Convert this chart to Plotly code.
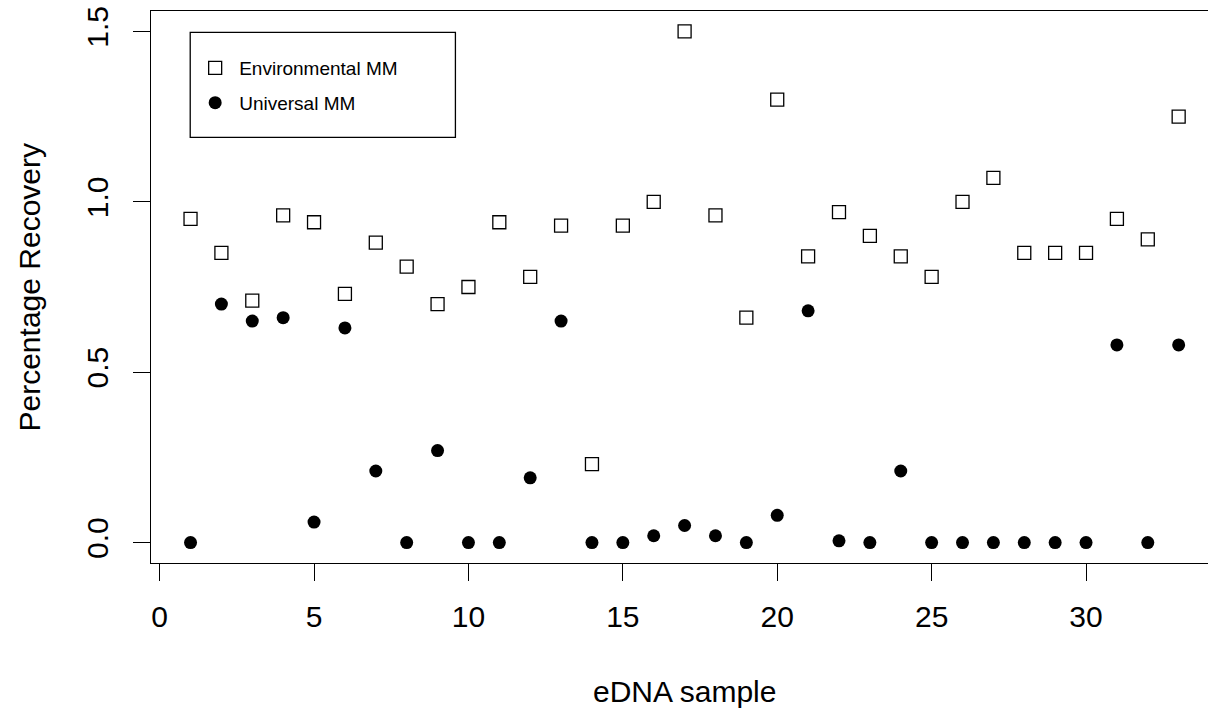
import plotly.graph_objects as go

samples = list(range(1, 34))
environmental_mm = [0.95, 0.85, 0.71, 0.96, 0.94, 0.73, 0.88, 0.81, 0.70, 0.75,
                    0.94, 0.78, 0.93, 0.23, 0.93, 1.00, 1.50, 0.96, 0.66, 1.30,
                    0.84, 0.97, 0.90, 0.84, 0.78, 1.00, 1.07, 0.85, 0.85, 0.85,
                    0.95, 0.89, 1.25]
universal_mm = [0.00, 0.70, 0.65, 0.66, 0.06, 0.63, 0.21, 0.00, 0.27, 0.00,
                0.00, 0.19, 0.65, 0.00, 0.00, 0.02, 0.05, 0.02, 0.00, 0.08,
                0.68, 0.005, 0.00, 0.21, 0.00, 0.00, 0.00, 0.00, 0.00, 0.00,
                0.58, 0.00, 0.58]
x_ticks = [0, 5, 10, 15, 20, 25, 30]
y_ticks = [0.0, 0.5, 1.0, 1.5]
y_tick_labels = ["0.0", "0.5", "1.0", "1.5"]

FONT = "Liberation Sans, Arial, sans-serif"

fig = go.Figure()
fig.add_trace(go.Scatter(
    x=samples, y=environmental_mm, mode="markers", name="Environmental MM",
    legendgroup="a",
    marker=dict(symbol="square-open", size=13, color="black",
                line=dict(width=1.3, color="black")),
))
fig.add_trace(go.Scatter(
    x=samples, y=universal_mm, mode="markers", name="Universal MM",
    legendgroup="b",
    marker=dict(symbol="circle", size=13, color="black", line=dict(width=0)),
))

fig.update_layout(
    width=1208, height=710,
    margin=dict(l=151, r=0, t=11, b=147, pad=0, autoexpand=False),
    paper_bgcolor="white", plot_bgcolor="white",
    font=dict(family=FONT, color="black", size=30),
    showlegend=True,
    legend=dict(
        x=0.038, y=0.931, xanchor="left", yanchor="top",
        bgcolor="rgba(0,0,0,0)", borderwidth=0,
        font=dict(family=FONT, size=19, color="black"),
        itemwidth=38, tracegroupgap=7, traceorder="grouped",
    ),
    xaxis=dict(
        range=[-0.28, 33.95], tickmode="array", tickvals=x_ticks,
        showgrid=False, zeroline=False,
        showline=True, linecolor="black", linewidth=1.3, mirror=True,
        ticks="outside", ticklen=17, tickwidth=1.3, tickcolor="black",
        ticklabelstandoff=10,
        tickfont=dict(family=FONT, size=30, color="black"),
    ),
    yaxis=dict(
        range=[-0.06, 1.56], tickmode="array", tickvals=y_ticks,
        ticktext=y_tick_labels, tickangle=-90,
        showgrid=False, zeroline=False,
        showline=True, linecolor="black", linewidth=1.3, mirror=False,
        ticks="outside", ticklen=17, tickwidth=1.3, tickcolor="black",
        ticklabelstandoff=13,
        tickfont=dict(family=FONT, size=30, color="black"),
    ),
    shapes=[dict(type="rect", xref="paper", yref="paper",
                 x0=0.0371, x1=0.2880, y0=0.7712, y1=0.9614,
                 line=dict(color="black", width=1.3), fillcolor="rgba(0,0,0,0)")],
    annotations=[
        dict(text="eDNA sample", xref="x", yref="paper", x=17, y=0,
             xanchor="center", yanchor="middle", yshift=-128.7, showarrow=False,
             font=dict(family=FONT, size=30, color="black")),
        dict(text="Percentage Recovery", xref="paper", yref="y", x=0, y=0.75,
             xanchor="center", yanchor="middle", xshift=-122.5, textangle=-90,
             showarrow=False, font=dict(family=FONT, size=30, color="black")),
    ],
)

fig.write_html(
    "out.html",
    config={"displayModeBar": False},
    post_script="document.body.style.margin='0';document.body.style.padding='0';"
                "document.body.style.overflow='hidden';",
)
